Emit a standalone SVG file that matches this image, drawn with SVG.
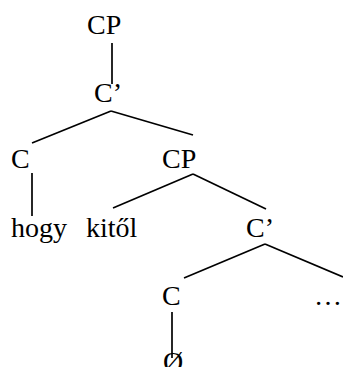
<svg xmlns="http://www.w3.org/2000/svg" width="343" height="367" viewBox="0 0 343 367">
<style>
text{font-family:"Liberation Serif","Times New Roman",serif;font-size:28px;fill:#000}
line{stroke:#000;stroke-width:1.7}
</style>
<rect width="343" height="367" fill="#fff"/>
<g id="connectors">
<line x1="112" y1="43" x2="112" y2="84"/>
<line x1="111" y1="111" x2="32" y2="143"/>
<line x1="111" y1="111" x2="193" y2="135"/>
<line x1="32" y1="173" x2="32" y2="216"/>
<line x1="193" y1="174" x2="113" y2="208"/>
<line x1="193" y1="174" x2="266" y2="209"/>
<line x1="265" y1="244" x2="184" y2="278"/>
<line x1="265" y1="244" x2="343" y2="277"/>
<line x1="172" y1="312" x2="172" y2="358"/>
</g>
<g id="n-cp1"><text x="87" y="34">CP</text></g>
<g id="n-cbar1"><text x="94" y="102">C’</text></g>
<g id="n-c1"><text x="11" y="168">C</text></g>
<g id="n-cp2"><text x="162" y="168">CP</text></g>
<g id="n-hogy"><text x="11" y="237">hogy</text></g>
<g id="n-kitol"><text x="86" y="237">kitől</text></g>
<g id="n-cbar2"><text x="246" y="237">C’</text></g>
<g id="n-c2"><text x="162" y="305">C</text></g>
<g id="n-dots"><text x="314" y="305">…</text></g>
<g id="n-empty"><text x="163" y="371">Ø</text></g>
</svg>
